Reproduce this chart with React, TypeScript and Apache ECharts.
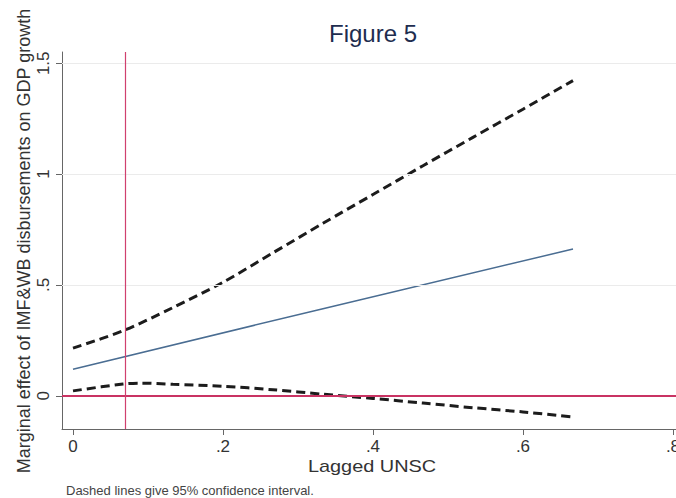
import React, { useEffect, useRef } from "react";
import * as echarts from "echarts";

// Marginal effect data
const xUpper = [0, 0.0667, 0.1333, 0.2, 0.2667, 0.3333, 0.4, 0.4667, 0.5333, 0.6, 0.6667];
const upperCI = [0.215, 0.293, 0.398, 0.512, 0.645, 0.778, 0.908, 1.038, 1.166, 1.293, 1.422];
const xLower = [0, 0.0667, 0.09, 0.1333, 0.2, 0.2667, 0.3333, 0.4, 0.4667, 0.5333, 0.6, 0.6667];
const lowerCI = [0.022, 0.053, 0.057, 0.052, 0.043, 0.027, 0.007, -0.012, -0.033, -0.054, -0.073, -0.096];
const xEffect = [0, 0.3333, 0.6667];
const effect = [0.12, 0.393, 0.662];
const xTicks = [0, 0.2, 0.4, 0.6, 0.8];
const yTicks = [0, 0.5, 1, 1.5];
const gridValues = [0.5, 1, 1.5];
const refX = 0.0667;
const refY = 0;

const FONT = "'Liberation Sans', Arial, sans-serif";

const fmt = (v: number) => {
  const s = String(Math.round(v * 100) / 100);
  return s.startsWith("0.") ? s.slice(1) : s;
};

export default function App() {
  const ref = useRef<HTMLDivElement>(null);
  useEffect(() => {
    if (!ref.current) return;
    const chart = echarts.init(ref.current, undefined, { renderer: "svg" });
    const pairs = (xs: number[], ys: number[]) => xs.map((x, i) => [x, ys[i]]);
    chart.setOption({
      animation: false,
      backgroundColor: "#ffffff",
      grid: { left: 62, right: 16, top: 52, bottom: 69, containLabel: false },
      xAxis: {
        type: "value",
        min: -0.01467,
        max: 0.8147,
        axisLine: { show: true, onZero: false, lineStyle: { color: "#666", width: 1 } },
        axisTick: { show: true, length: 6, lineStyle: { color: "#666" }, customValues: xTicks },
        axisLabel: {
          customValues: xTicks,
          formatter: (v: number) => fmt(v),
          fontSize: 17,
          fontFamily: FONT,
          color: "#333",
          margin: 9,
        },
        splitLine: { show: false },
      },
      yAxis: {
        type: "value",
        min: -0.15,
        max: 1.551,
        axisLine: { show: true, onZero: false, lineStyle: { color: "#666", width: 1 } },
        axisTick: { show: true, length: 6, lineStyle: { color: "#666" }, customValues: yTicks },
        axisLabel: {
          customValues: yTicks,
          rotate: 90,
          formatter: (v: number) => fmt(v),
          fontSize: 17,
          fontFamily: FONT,
          color: "#333",
          margin: 10,
        },
        splitLine: { show: false },
      },
      graphic: [
        {
          type: "text",
          x: 373,
          y: 33,
          style: {
            text: "Figure 5",
            fontSize: 24,
            fontFamily: FONT,
            fill: "#1e2d4f",
            align: "center",
            verticalAlign: "middle",
          },
        },
        {
          type: "text",
          x: 372,
          y: 466,
          scaleX: 1.17,
          style: {
            text: "Lagged UNSC",
            fontSize: 17,
            fontFamily: FONT,
            fill: "#333",
            align: "center",
            verticalAlign: "middle",
          },
        },
        {
          type: "text",
          x: 24,
          y: 241,
          rotation: Math.PI / 2,
          style: {
            text: "Marginal effect of IMF&WB disbursements on GDP growth",
            fontSize: 18,
            fontFamily: FONT,
            fill: "#333",
            align: "center",
            verticalAlign: "middle",
          },
        },
        {
          type: "text",
          x: 66,
          y: 490,
          style: {
            text: "Dashed lines give 95% confidence interval.",
            fontSize: 13,
            fontFamily: FONT,
            fill: "#444",
            align: "left",
            verticalAlign: "middle",
          },
        },
      ],
      series: [
        {
          name: "grid",
          type: "line",
          data: [],
          silent: true,
          z: 1,
          markLine: {
            silent: true,
            symbol: "none",
            label: { show: false },
            lineStyle: { color: "#ebebeb", width: 1, type: "solid" },
            data: gridValues.map((v) => ({ yAxis: v })),
          },
        },
        {
          name: "Upper 95% CI",
          type: "line",
          data: pairs(xUpper, upperCI),
          showSymbol: false,
          smooth: 0.3,
          z: 3,
          lineStyle: { color: "#1c1c1c", width: 3, type: [9, 5] },
        },
        {
          name: "Lower 95% CI",
          type: "line",
          data: pairs(xLower, lowerCI),
          showSymbol: false,
          smooth: 0.3,
          z: 3,
          lineStyle: { color: "#1c1c1c", width: 3, type: [9, 5] },
        },
        {
          name: "Marginal effect",
          type: "line",
          data: pairs(xEffect, effect),
          showSymbol: false,
          z: 3,
          lineStyle: { color: "#4a6d92", width: 1.5 },
          markLine: {
            silent: true,
            symbol: "none",
            label: { show: false },
            data: [
              { yAxis: refY, lineStyle: { color: "#c93363", width: 2, type: "solid" } },
              { xAxis: refX, lineStyle: { color: "#d0406e", width: 1.2, type: "solid" } },
            ],
          },
        },
      ],
    });
    return () => chart.dispose();
  }, []);
  return (
    <div
      ref={ref}
      style={{ position: "fixed", left: 0, top: 0, width: 700, height: 498 }}
    />
  );
}
